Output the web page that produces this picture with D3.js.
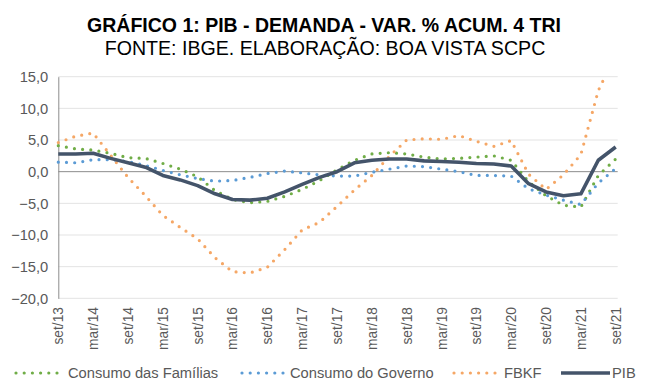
<!doctype html>
<html>
<head>
<meta charset="utf-8">
<script src="https://cdn.jsdelivr.net/npm/d3@7"></script>
<style>
  body { margin: 0; background: #fff; }
  text { font-family: "Liberation Sans", Arial, sans-serif; }
</style>
</head>
<body>
<svg id="chart" width="654" height="387"></svg>
<script>
// quarters set/13 .. set/21
var quarters = [];
var meses = ['set', 'dez', 'mar', 'jun'];
for (var i = 0; i < 33; i++) {
  var m = meses[i % 4];
  var yr = 13 + Math.floor((i + 2) / 4);
  quarters.push(m + '/' + yr);
}

var familias = [4.1, 3.6, 3.4, 2.9, 2.2, 2.1, 1.3, 0.4, -0.8, -3.0, -4.4, -4.9, -4.7, -3.9, -2.8, -1.4,
  0.3, 1.8, 2.8, 3.0, 2.8, 2.3, 2.0, 2.1, 2.3, 2.5, 1.8, -1.6, -3.8, -5.3, -5.6, -0.6, 2.0];
var governo = [1.5, 1.4, 1.9, 1.9, 1.6, 1.0, 0.2, -0.5, -1.1, -1.5, -1.4, -0.9, -0.3, 0.1, -0.2, -0.5,
  -0.7, -0.7, -0.1, 0.4, 0.9, 0.8, 0.4, 0.0, -0.6, -0.6, -0.7, -2.7, -3.7, -4.5, -5.2, -1.8, 0.5];
var fbkf = [4.6, 5.6, 6.1, 2.6, -0.9, -3.8, -6.9, -8.8, -10.6, -13.6, -15.8, -16.0, -15.1, -12.3, -9.2, -8.0,
  -5.5, -2.9, -0.6, 2.4, 5.0, 5.2, 5.1, 5.7, 4.8, 4.0, 4.9, -0.4, -2.8, -0.5, 2.7, 12.8, 18.5];
var pib = [2.8, 2.8, 2.9, 2.1, 1.4, 0.7, -0.6, -1.3, -2.2, -3.5, -4.4, -4.5, -4.2, -3.2, -2.0, -0.9,
  0.0, 1.4, 1.8, 2.0, 2.0, 1.7, 1.6, 1.5, 1.3, 1.2, 0.9, -1.9, -3.2, -3.8, -3.5, 1.8, 3.9];
var yTicks = [15, 10, 5, 0, -5, -10, -15, -20];

var series = [
  { name: 'Consumo das Famílias', values: familias, color: '#70ad47', dotted: true },
  { name: 'Consumo do Governo', values: governo, color: '#5b9bd5', dotted: true },
  { name: 'FBKF', values: fbkf, color: '#f5a766', dotted: true },
  { name: 'PIB', values: pib, color: '#44546a', dotted: false }
];

var svg = d3.select('#chart');
var plotLeft = 58.3, plotRight = 617.7, plotTop = 76.7, plotBottom = 298.3;

var x = d3.scalePoint().domain(quarters).range([plotLeft, 615.7]);
var y = d3.scaleLinear().domain([-20, 15]).range([plotBottom, plotTop]);
var fmt = function (d) { return d3.format('.1f')(d).replace('.', ','); };

// title
svg.append('text').attr('x', 324).attr('y', 32).attr('text-anchor', 'middle')
  .style('font-size', '19.5px').style('font-weight', 'bold').attr('fill', '#000')
  .text('GRÁFICO 1: PIB - DEMANDA - VAR. % ACUM. 4 TRI');
svg.append('text').attr('x', 325).attr('y', 55).attr('text-anchor', 'middle')
  .style('font-size', '19.6px').attr('fill', '#000')
  .text('FONTE: IBGE. ELABORAÇÃO: BOA VISTA SCPC');

// gridlines
svg.append('g').selectAll('line').data(yTicks.filter(function (d) { return d !== 0; }))
  .enter().append('line')
  .attr('x1', plotLeft).attr('x2', plotRight)
  .attr('y1', function (d) { return y(d); }).attr('y2', function (d) { return y(d); })
  .attr('stroke', '#e3e3e3').attr('stroke-width', 1);

// y axis labels
var yAxis = d3.axisLeft(y).tickValues(yTicks).tickFormat(fmt).tickSize(0).tickPadding(10);
var gy = svg.append('g').attr('transform', 'translate(' + plotLeft + ',0)').call(yAxis);
gy.select('.domain').attr('stroke', '#8c8c8c');
gy.selectAll('text').style('font-size', '14.7px').attr('fill', '#595959')
  .style('font-family', '"Liberation Sans", Arial, sans-serif');

// zero line
svg.append('line').attr('x1', plotLeft).attr('x2', plotRight).attr('y1', y(0)).attr('y2', y(0))
  .attr('stroke', '#8c8c8c').attr('stroke-width', 1);

// x labels at the bottom, every second quarter
svg.append('g').selectAll('text').data(quarters.filter(function (d, i) { return i % 2 === 0; }))
  .enter().append('text')
  .attr('transform', function (d) { return 'translate(' + (x(d) + 5) + ',307) rotate(-90)'; })
  .attr('text-anchor', 'end')
  .style('font-size', '13.8px').attr('fill', '#595959')
  .text(function (d) { return d; });

// clip
svg.append('clipPath').attr('id', 'plot').append('rect')
  .attr('x', plotLeft - 5).attr('y', plotTop).attr('width', plotRight - plotLeft + 10)
  .attr('height', plotBottom - plotTop + 5);

var line = d3.line().x(function (d, i) { return x(quarters[i]); }).y(function (d) { return y(d); });

var lines = svg.append('g').attr('clip-path', 'url(#plot)');
series.forEach(function (s) {
  var p = lines.append('path').datum(s.values).attr('d', line)
    .attr('fill', 'none').attr('stroke', s.color);
  if (s.dotted) {
    p.attr('stroke-width', 3.2).attr('stroke-linecap', 'round').attr('stroke-dasharray', '0 8.2');
  } else {
    p.attr('stroke-width', 3.6).attr('stroke-linejoin', 'round');
  }
});

// legend
var legendPos = [
  { sx: 16, ex: 62, tx: 68 },
  { sx: 242, ex: 283, tx: 290 },
  { sx: 454, ex: 496, tx: 504 },
  { sx: 561, ex: 610, tx: 612 }
];
var ly = 373;
series.forEach(function (s, i) {
  var lp = legendPos[i];
  var l = svg.append('line').attr('x1', lp.sx).attr('x2', lp.ex).attr('y1', ly).attr('y2', ly)
    .attr('stroke', s.color);
  if (s.dotted) {
    l.attr('stroke-width', 3.2).attr('stroke-linecap', 'round').attr('stroke-dasharray', '0 8.2');
  } else {
    l.attr('stroke-width', 3.6);
  }
  svg.append('text').attr('x', lp.tx).attr('y', ly + 5)
    .style('font-size', '14.7px').attr('fill', '#595959').text(s.name);
});
</script>
</body>
</html>
